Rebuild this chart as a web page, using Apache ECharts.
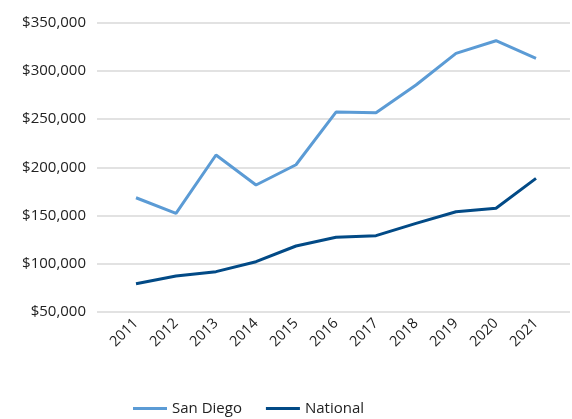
<!DOCTYPE html>
<html><head><meta charset="utf-8">
<script src="https://cdn.jsdelivr.net/npm/echarts@6/dist/echarts.min.js"></script>
<style>html,body{margin:0;padding:0;background:#fff}#c{width:572px;height:419px}</style>
</head><body><div id="c"></div>
<script>
const years = ['2011','2012','2013','2014','2015','2016','2017','2018','2019','2020','2021'];
const sanDiego = [168400, 152300, 212700, 181600, 202600, 257200, 256500, 285200, 318000, 331100, 312900];
const national = [79300, 87300, 91800, 102100, 118400, 127400, 129100, 141900, 153900, 157500, 188500];
const yMin = 50000, yMax = 350000, yStep = 50000;

const chart = echarts.init(document.getElementById('c'));
const font = '"Open Sans", "Noto Sans", sans-serif';
const fmt = v => '$' + v.toLocaleString('en-US');
chart.setOption({
  animation: false,
  textStyle: { fontFamily: font },
  grid: [
    { left: 97, right: 2, top: 22.5, bottom: 107 },
    { left: 116, right: 16, top: 22.5, bottom: 107 }
  ],
  xAxis: [
    { gridIndex: 0, type: 'category', data: years, show: false },
    { gridIndex: 1, type: 'category', data: years, boundaryGap: true,
      axisLine: { show: false }, axisTick: { show: false },
      axisLabel: { rotate: 45, color: '#222', fontSize: 14.5, fontFamily: font, margin: 9, interval: 0 } }
  ],
  yAxis: [
    { gridIndex: 0, type: 'value', min: yMin, max: yMax, interval: yStep,
      axisLine: { show: false }, axisTick: { show: false },
      splitLine: { lineStyle: { color: '#d9d9d9', width: 1.5 } },
      axisLabel: { color: '#222', fontSize: 15, fontFamily: font, margin: 11, formatter: fmt } },
    { gridIndex: 1, type: 'value', min: yMin, max: yMax, interval: yStep, show: false, splitLine: { show: false } }
  ],
  legend: {
    bottom: -2, left: 128, itemGap: 24, itemWidth: 34, itemHeight: 3, icon: 'rect',
    textStyle: { color: '#222', fontSize: 15, fontFamily: font },
    data: ['San Diego', 'National']
  },
  series: [
    { name: 'San Diego', type: 'line', xAxisIndex: 1, yAxisIndex: 1, data: sanDiego,
      symbol: 'none', color: '#5B9BD5', lineStyle: { width: 3, color: '#5B9BD5' } },
    { name: 'National', type: 'line', xAxisIndex: 1, yAxisIndex: 1, data: national,
      symbol: 'none', color: '#024A86', lineStyle: { width: 3, color: '#024A86' } }
  ]
});
</script></body></html>
